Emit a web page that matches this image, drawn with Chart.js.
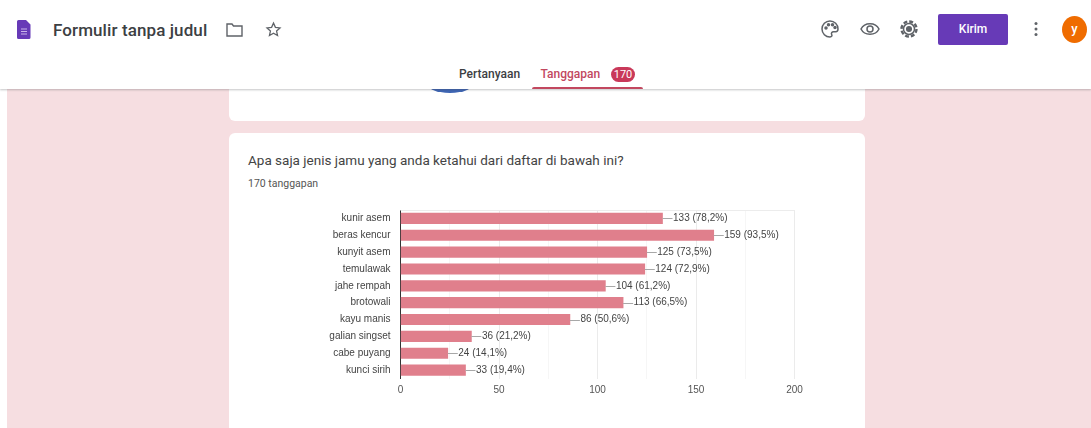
<!DOCTYPE html>
<html>
<head>
<meta charset="utf-8">
<title>Formulir tanpa judul</title>
<script src="https://cdn.jsdelivr.net/npm/chart.js@4"></script>
<style>
  html, body { margin: 0; padding: 0; }
  body { width: 1091px; height: 428px; overflow: hidden; position: relative; background: #fff; font-family: Roboto, sans-serif; }
  .abs { position: absolute; }
  #page { left: 7px; top: 89px; right: 0; bottom: 0; background: #f6dee1; }
  #header { left: 0; top: 0; width: 1091px; height: 89px; background: #fff; box-shadow: 0 1px 2px rgba(60,64,67,.3); z-index: 3; }
  .card { left: 229px; width: 636px; background: #fff; border-radius: 6px; }
  #arc { left: 425px; top: 70px; width: 50px; height: 23px; border-radius: 50%; background: #3f66b5; z-index: 1; }
  #title { left: 53px; top: 19.500px; font-size: 17px; font-weight: 500; color: #3c4043; letter-spacing: .1px; }
  #send { left: 938px; top: 14px; width: 70px; height: 31px; background: #673ab7; border-radius: 2px; color: #fff; font-size: 12px; font-weight: 500; text-align: center; line-height: 31px; }
  #avatar { left: 1062px; top: 16px; width: 25px; height: 27px; border-radius: 50%; background: #ef6c00; color: #fff; font-size: 13px; font-weight: 500; text-align: center; line-height: 25px; }
  .tab { top: 67px; font-size: 12px; font-weight: 500; }
  #badge { left: 611px; top: 66.500px; width: 24px; height: 15px; border-radius: 8px; background: #c9395a; color: #fff; font-size: 11px; text-align: center; line-height: 15px; }
  #underline { left: 532px; top: 86.500px; width: 111px; height: 2.500px; background: #c2485f; border-radius: 3px 3px 0 0; }
  #question { left: 248px; top: 152px; font-size: 13.500px; color: #444; z-index: 2; }
  #count { left: 248px; top: 176.500px; font-size: 10.500px; color: #555; z-index: 2; }
  #chartBox { left: 229px; top: 200px; width: 636px; height: 228px; z-index: 2; }
  svg { position: absolute; }
</style>
</head>
<body>
<div class="abs" id="page"></div>
<div class="abs card" style="top:80px;height:41px"></div>
<div class="abs" id="arc"></div>
<div class="abs card" style="top:133px;height:300px"></div>

<div class="abs" id="header">
  <svg style="left:17px;top:20px" width="14" height="19" viewBox="0 0 14 19">
    <path d="M1.500 0H9l4.500 4.500V17.500a1.500 1.500 0 0 1-1.500 1.500H1.500A1.500 1.500 0 0 1 0 17.500V1.500A1.500 1.500 0 0 1 1.500 0z" fill="#673ab7"/>
    <path d="M4 9h6M4 11.500h6M4 14h6" stroke="#c9b5e8" stroke-width="1"/>
  </svg>
  <div class="abs" id="title">Formulir tanpa judul</div>
  <svg style="left:226px;top:22px" width="17" height="15" viewBox="0 0 17 15" fill="none" stroke="#5f6368" stroke-width="1.400">
    <path d="M1 2h5l1.500 2H16v10H1z"/>
  </svg>
  <svg style="left:265px;top:21px" width="17" height="17" viewBox="0 0 24 24" fill="none" stroke="#5f6368" stroke-width="1.800">
    <path d="M12 3l2.700 6 6.500.7-4.900 4.300 1.400 6.400L12 17.100l-5.700 3.300 1.400-6.400-4.900-4.300 6.500-.7z"/>
  </svg>
  <svg style="left:815px;top:15px" width="110" height="30" viewBox="815 15 110 30" fill="none" stroke="#5f6368" stroke-width="1.500">
    <!-- palette -->
    <path d="M830 21a8 8 0 1 0 0 16c1.800 0 2.300-1.300 1.700-2.400-.8-1.500.2-2.900 1.800-2.900h2.200c1.600 0 2.300-1.200 2.300-2.700 0-4.500-3.600-8-8-8z"/>
    <circle cx="826" cy="28" r="1" fill="#5f6368"/><circle cx="828.500" cy="24.800" r="1" fill="#5f6368"/><circle cx="832.500" cy="24.800" r="1" fill="#5f6368"/><circle cx="835" cy="27.500" r="1" fill="#5f6368"/>
    <!-- preview -->
    <path d="M861 29c3.500-7 14.500-7 18 0-3.500 7-14.500 7-18 0z"/>
    <circle cx="870" cy="29" r="3"/>
    <!-- settings -->
    <circle cx="909" cy="29" r="2.300" fill="#5f6368"/>
    <circle cx="909" cy="29" r="5.500"/>
    <circle cx="909" cy="29" r="7.500" stroke-dasharray="3.900 1.990" stroke-width="2.400"/>
  </svg>
  <div class="abs" id="send">Kirim</div>
  <svg style="left:1034px;top:21px" width="4" height="16" viewBox="0 0 4 16" fill="#5f6368">
    <circle cx="2" cy="2.500" r="1.500"/><circle cx="2" cy="8" r="1.500"/><circle cx="2" cy="13.500" r="1.500"/>
  </svg>
  <div class="abs" id="avatar">y</div>
  <div class="abs tab" style="left:459px;color:#3c4043">Pertanyaan</div>
  <div class="abs tab" style="left:540.500px;color:#c2485f">Tanggapan</div>
  <div class="abs" id="badge">170</div>
  <div class="abs" id="underline"></div>
</div>

<div class="abs" id="question">Apa saja jenis jamu yang anda ketahui dari daftar di bawah ini?</div>
<div class="abs" id="count">170 tanggapan</div>
<div class="abs" id="chartBox"><canvas id="graph1"></canvas></div>

<script>
var categories = ["kunir asem", "beras kencur", "kunyit asem", "temulawak", "jahe rempah",
                  "brotowali", "kayu manis", "galian singset", "cabe puyang", "kunci sirih"];
var counts = [133, 159, 125, 124, 104, 113, 86, 36, 24, 33];
var percents = ["78,2%", "93,5%", "73,5%", "72,9%", "61,2%", "66,5%", "50,6%", "21,2%", "14,1%", "19,4%"];
var axisMax = 200;
var gridStep = 25;

var chartFont = { family: "'Liberation Sans', Arial, sans-serif", size: 10 };

// leader line and "count (percent)" text at the end of each bar
var barLabels = {
    id: 'barLabels',
    beforeDatasetsDraw: function (chart) {
        // faint frame line along the top of the plot
        var a = chart.chartArea;
        var c = chart.ctx;
        c.save();
        c.strokeStyle = '#ececec';
        c.beginPath();
        c.moveTo(a.left, Math.round(a.top) + 0.5);
        c.lineTo(a.right, Math.round(a.top) + 0.5);
        c.stroke();
        c.restore();
    },
    afterDatasetsDraw: function (chart) {
        var c = chart.ctx;
        var meta = chart.getDatasetMeta(0);
        c.save();
        c.font = "10px 'Liberation Sans', Arial, sans-serif";
        c.textBaseline = 'middle';
        meta.data.forEach(function (bar, i) {
            c.strokeStyle = '#a8a8a8';
            c.lineWidth = 1;
            c.beginPath();
            c.moveTo(bar.x, Math.round(bar.y) + 0.5);
            c.lineTo(bar.x + 10, Math.round(bar.y) + 0.5);
            c.stroke();
            c.fillStyle = '#444';
            c.fillText(counts[i] + ' (' + percents[i] + ')', bar.x + 10.500, bar.y);
        });
        c.restore();
    }
};

var ctx = document.getElementById('graph1').getContext('2d');
var chart = new Chart(ctx, {
    type: 'bar',
    plugins: [barLabels],
    data: {
        labels: categories,
        datasets: [{
            label: "Apa saja jenis jamu",
            backgroundColor: "#e07f8c",
            data: counts,
            barThickness: 10.500
        }]
    },
    options: {
        indexAxis: 'y',
        responsive: true,
        maintainAspectRatio: false,
        animation: false,
        layout: { autoPadding: false, padding: { top: 10, right: 70.500, left: 0, bottom: 0 } },
        plugins: { legend: { display: false }, tooltip: { enabled: false } },
        scales: {
            x: {
                min: 0,
                max: axisMax,
                ticks: {
                    stepSize: gridStep,
                    maxRotation: 0,
                    autoSkip: false,
                    color: '#555',
                    font: chartFont,
                    padding: 5.500,
                    callback: function (v) { return v % 50 === 0 ? v : ''; }
                },
                border: { display: false },
                grid: {
                    drawTicks: false,
                    color: function (c) { return c.tick.value % 50 === 0 ? '#ebebeb' : '#f6f6f6'; }
                },
                afterFit: function (axis) { axis.height = 49.500; }
            },
            y: {
                ticks: { color: '#444', font: chartFont, padding: 10, autoSkip: false },
                border: { display: true, color: '#333', width: 1 },
                grid: { display: false, drawTicks: false },
                afterFit: function (axis) {
                    axis.width = 171.500;
                    // tick padding would otherwise inset the plot from the top
                    axis.paddingTop = 0;
                    axis.paddingBottom = 0;
                }
            }
        }
    }
});
</script>
</body>
</html>
